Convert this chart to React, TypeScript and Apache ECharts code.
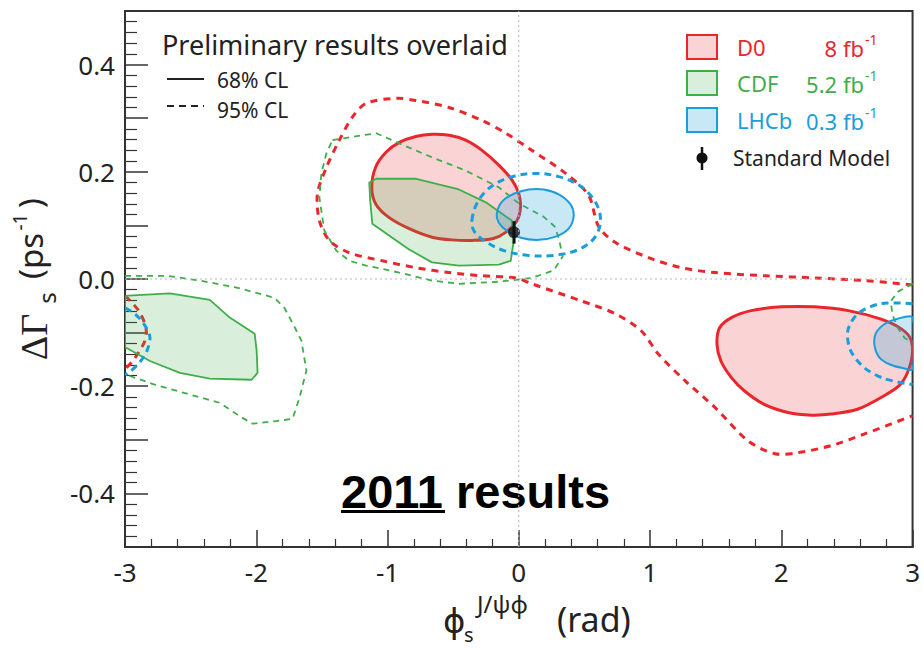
import React, { useEffect, useRef } from 'react';
import * as echarts from 'echarts';

type Pt = [number, number];

// Axis ticks
const X_TICKS = [-3, -2, -1, 0, 1, 2, 3];
const Y_LABEL_VALUES = [-0.4, -0.2, 0, 0.2, 0.4];

// Experiments in the legend
const EXPERIMENTS = ['D0', 'CDF', 'LHCb'];
const LUMIS = ['8 fb', '5.2 fb', '0.3 fb'];

// D0, 8 fb^-1 : 68% CL (central and phi ~ +2 solutions)
const d0Inner: Pt[] = [
  [-1.09, 0.209], [-1.01, 0.237], [-0.91, 0.255], [-0.785, 0.266], [-0.66, 0.27],
  [-0.53, 0.268], [-0.405, 0.259], [-0.28, 0.24], [-0.15, 0.212], [-0.05, 0.184],
  [0.0, 0.159], [0.013, 0.134], [-0.013, 0.109], [-0.1, 0.087], [-0.2, 0.075],
  [-0.355, 0.072], [-0.51, 0.073], [-0.66, 0.078], [-0.835, 0.094], [-0.99, 0.115],
  [-1.09, 0.14], [-1.12, 0.171],
];
const d0InnerRight: Pt[] = [
  [1.51, -0.122], [1.53, -0.091], [1.62, -0.072], [1.77, -0.059], [2.0, -0.052],
  [2.25, -0.052], [2.51, -0.059], [2.76, -0.075], [2.92, -0.094], [2.99, -0.115],
  [2.99, -0.153], [2.91, -0.196], [2.76, -0.221], [2.58, -0.243], [2.38, -0.252],
  [2.23, -0.254], [2.05, -0.249], [1.87, -0.234], [1.72, -0.209], [1.62, -0.184],
  [1.54, -0.153],
];
// D0 95% CL: one contour leaving and re-entering through phi = 3
const d0Outer: Pt[] = [
  [3.0, -0.011], [2.635, -0.003], [2.256, 0.002], [1.876, 0.006], [1.496, 0.012],
  [1.238, 0.021], [0.987, 0.04], [0.737, 0.068], [0.608, 0.098], [0.532, 0.156],
  [0.357, 0.197], [0.099, 0.24], [-0.099, 0.272], [-0.281, 0.296], [-0.532, 0.32],
  [-0.782, 0.333], [-0.934, 0.337], [-1.162, 0.328], [-1.268, 0.302], [-1.367, 0.259],
  [-1.466, 0.208], [-1.534, 0.159], [-1.519, 0.109], [-1.443, 0.072], [-1.291, 0.049],
  [-1.04, 0.034], [-0.782, 0.021], [-0.532, 0.012], [-0.281, 0.006], [-0.023, 0.002],
  [0.099, -0.009], [0.478, -0.041], [0.737, -0.065], [0.934, -0.097], [1.063, -0.14],
  [1.268, -0.19], [1.496, -0.24], [1.747, -0.302], [1.952, -0.326], [2.127, -0.324],
  [2.377, -0.311], [2.635, -0.289], [3.0, -0.255],
];
const d0OuterLeft: Pt[] = [
  [-3.0, -0.031], [-2.94, -0.046], [-2.886, -0.063], [-2.84, -0.091],
  [-2.848, -0.115], [-2.894, -0.136], [-2.947, -0.155], [-3.0, -0.168],
];

// CDF, 5.2 fb^-1
const cdfInner: Pt[] = [
  [-1.139, 0.18], [-1.086, 0.187], [-0.782, 0.187], [-0.456, 0.167], [-0.251, 0.143],
  [-0.053, 0.109], [-0.038, 0.072], [-0.061, 0.034], [-0.152, 0.027], [-0.456, 0.025],
  [-0.661, 0.031], [-0.835, 0.055], [-0.934, 0.072], [-1.116, 0.103], [-1.132, 0.146],
];
const cdfInnerLeft: Pt[] = [
  [-3.0, -0.033], [-2.977, -0.031], [-2.658, -0.027], [-2.354, -0.039], [-2.202, -0.072],
  [-2.012, -0.102], [-1.997, -0.134], [-1.99, -0.175], [-2.035, -0.188], [-2.354, -0.186],
  [-2.582, -0.175], [-2.81, -0.153], [-2.977, -0.13], [-3.0, -0.128],
];
const cdfOuter: Pt[] = [
  [-1.42, 0.259], [-1.352, 0.262], [-1.086, 0.272], [-0.911, 0.253], [-0.661, 0.227],
  [-0.403, 0.202], [-0.152, 0.171], [0.0, 0.141], [0.19, 0.116], [0.273, 0.098],
  [0.304, 0.077], [0.334, 0.042], [0.266, 0.016], [0.099, 0.002], [-0.152, -0.005],
  [-0.456, -0.009], [-0.661, -0.003], [-0.911, 0.012], [-1.162, 0.025], [-1.291, 0.034],
  [-1.39, 0.053], [-1.481, 0.09], [-1.519, 0.152], [-1.504, 0.197], [-1.466, 0.234],
];
const cdfOuterLeft: Pt[] = [
  [-3.0, 0.006], [-2.939, 0.006], [-2.681, 0.006], [-2.43, -0.003], [-2.149, -0.016],
  [-1.861, -0.035], [-1.785, -0.054], [-1.724, -0.082], [-1.656, -0.115], [-1.618, -0.171],
  [-1.671, -0.222], [-1.724, -0.261], [-1.846, -0.265], [-2.028, -0.27], [-2.127, -0.256],
  [-2.278, -0.231], [-2.529, -0.214], [-2.787, -0.196], [-2.962, -0.181], [-3.0, -0.179],
];
const cdfOuterRight: Pt[] = [
  [3.0, -0.009], [2.886, -0.024], [2.833, -0.042], [2.848, -0.067], [2.886, -0.091],
  [2.939, -0.11], [3.0, -0.119],
];

// LHCb, 0.3 fb^-1
const lhcbInner: Pt[] = [
  [-0.167, 0.122], [-0.129, 0.144], [-0.038, 0.159], [0.076, 0.167], [0.19, 0.167],
  [0.304, 0.158], [0.395, 0.139], [0.418, 0.117], [0.38, 0.094], [0.281, 0.079],
  [0.152, 0.073], [0.015, 0.077], [-0.091, 0.09], [-0.152, 0.105],
];
const lhcbInnerRight: Pt[] = [
  [3.0, -0.072], [2.886, -0.074], [2.787, -0.084], [2.719, -0.102], [2.711, -0.125],
  [2.749, -0.147], [2.833, -0.16], [2.924, -0.166], [3.0, -0.168],
];
const lhcbOuter: Pt[] = [
  [-0.357, 0.109], [-0.319, 0.141], [-0.228, 0.169], [-0.076, 0.189], [0.114, 0.197],
  [0.304, 0.191], [0.471, 0.173], [0.585, 0.143], [0.623, 0.109], [0.577, 0.077],
  [0.456, 0.055], [0.266, 0.044], [0.076, 0.044], [-0.114, 0.053], [-0.266, 0.072],
  [-0.342, 0.09],
];
const lhcbOuterRight: Pt[] = [
  [3.0, -0.046], [2.757, -0.046], [2.582, -0.065], [2.506, -0.097], [2.529, -0.134],
  [2.635, -0.166], [2.787, -0.186], [3.0, -0.197],
];
const lhcbOuterLeft: Pt[] = [
  [-3.0, -0.054], [-2.924, -0.065], [-2.848, -0.087], [-2.81, -0.109], [-2.833, -0.134],
  [-2.886, -0.155], [-2.962, -0.173], [-3.0, -0.179],
];

// Standard Model prediction
const SM_POINT: Pt = [-0.036, 0.087];
const SM_ERROR = 0.021;

const RED = '#e8262b';
const RED_FILL = 'rgba(232,38,43,0.2)';
const GREEN = '#3fae49';
const GREEN_FILL = 'rgba(63,174,73,0.2)';
const BLUE = '#1b9ddb';
const BLUE_FILL = 'rgba(27,157,219,0.24)';
const COLORS = [RED, GREEN, BLUE];
const FILLS = [RED_FILL, GREEN_FILL, BLUE_FILL];

const SANS = "'Noto Sans', 'DejaVu Sans', sans-serif";
const SERIF = "'Liberation Serif', 'DejaVu Serif', serif";
const INK = '#222';

interface ContourStyle {
  stroke: string;
  fill?: string;
  width: number;
  dash?: number[];
  closed: boolean;
  smooth?: number;
}

function contour(pts: Pt[], s: ContourStyle) {
  return {
    type: 'custom',
    coordinateSystem: 'cartesian2d',
    clip: true,
    silent: true,
    data: [pts[0]],
    renderItem: (_params: any, api: any) => ({
      type: s.closed ? 'polygon' : 'polyline',
      shape: { points: pts.map((p) => api.coord(p)), smooth: s.smooth || 0 },
      style: {
        fill: s.fill || (s.closed ? 'none' : null),
        stroke: s.stroke,
        lineWidth: s.width,
        lineDash: s.dash || null,
        lineJoin: 'round',
      },
    }),
  };
}

function text(x: number, y: number, str: string, size: number, opts: any = {}) {
  return {
    type: 'text',
    x,
    y,
    rotation: opts.rotation || 0,
    silent: true,
    style: {
      text: str,
      fill: opts.color || INK,
      fontSize: size,
      fontFamily: opts.family || SANS,
      fontWeight: opts.weight || 'normal',
      align: opts.align || 'left',
      textAlign: opts.align || 'left',
      verticalAlign: 'middle',
      textVerticalAlign: 'middle',
    },
  };
}

function buildGraphic() {
  const g: any[] = [];
  // CL annotation
  g.push(text(162, 44, 'Preliminary results overlaid', 27));
  g.push({ type: 'line', shape: { x1: 167, y1: 79, x2: 204, y2: 79 }, style: { stroke: INK, lineWidth: 2 } });
  g.push({ type: 'line', shape: { x1: 167, y1: 106, x2: 204, y2: 106 }, style: { stroke: INK, lineWidth: 2, lineDash: [7, 5] } });
  g.push(text(217, 80, '68% CL', 21));
  g.push(text(217, 110, '95% CL', 21));

  // Experiment legend
  const rowY = [47, 83, 120];
  EXPERIMENTS.forEach((name, i) => {
    const y = rowY[i];
    g.push({
      type: 'rect',
      shape: { x: 687, y: y - 12, width: 30, height: 24 },
      style: { fill: FILLS[i], stroke: COLORS[i], lineWidth: 2 },
    });
    g.push(text(737, y, name, 22, { color: COLORS[i] }));
    g.push(text(864, y + 1, LUMIS[i], 22, { color: COLORS[i], align: 'right' }));
    g.push(text(865, y - 8, '-1', 14, { color: COLORS[i] }));
  });
  // Standard Model entry
  g.push({ type: 'line', shape: { x1: 702, y1: 147, x2: 702, y2: 170 }, style: { stroke: '#111', lineWidth: 2.5 } });
  g.push({ type: 'circle', shape: { cx: 702, cy: 158, r: 5.5 }, style: { fill: '#111' } });
  g.push(text(733, 158, 'Standard Model', 21));

  // "2011 results"
  g.push(text(341, 491, '2011 results', 47, { color: '#000', weight: 'bold', family: "'Liberation Sans', Arial, sans-serif" }));
  g.push({ type: 'rect', shape: { x: 341, y: 510, width: 104, height: 3 }, style: { fill: '#000' } });

  // x-axis title: phi_s^{J/psi phi} (rad)
  g.push(text(443, 621, 'ϕ', 34, { family: "'DejaVu Sans', sans-serif" }));
  g.push(text(464, 634, 's', 20));
  g.push(text(477, 603, 'J/ψϕ', 24));
  g.push(text(557, 619, '(rad)', 34));

  // y-axis title: Delta Gamma_s (ps^-1), reading upwards
  const up = Math.PI / 2;
  g.push(text(34, 337, 'ΔΓ', 38, { family: SERIF, rotation: up, align: 'center' }));
  g.push(text(46, 298, 's', 24, { rotation: up, align: 'center' }));
  g.push(text(30, 256, '(ps', 33, { rotation: up, align: 'center' }));
  g.push(text(20, 222, '-1', 19, { rotation: up, align: 'center' }));
  g.push(text(30, 203, ')', 33, { rotation: up, align: 'center' }));
  return g;
}

export default function App() {
  const ref = useRef<HTMLDivElement>(null);

  useEffect(() => {
    if (!ref.current) return;
    const chart = echarts.init(ref.current, null, { renderer: 'svg' });

    const zeroLine = (data: Pt[]) => ({
      type: 'line',
      data,
      symbol: 'none',
      silent: true,
      lineStyle: { color: '#b8b8b8', width: 1, type: [2, 3] },
    });

    const option: any = {
      animation: false,
      backgroundColor: '#fff',
      grid: {
        left: 125,
        right: 8,
        top: 11,
        bottom: 101,
        show: true,
        borderColor: '#333',
        borderWidth: 2,
        backgroundColor: 'transparent',
      },
      xAxis: {
        type: 'value',
        min: X_TICKS[0],
        max: X_TICKS[X_TICKS.length - 1],
        interval: 1,
        axisLine: { onZero: false, lineStyle: { color: '#333', width: 2 } },
        axisTick: { inside: true, length: 17, lineStyle: { color: '#333', width: 1.5 } },
        minorTick: { show: true, splitNumber: 5, length: 8, lineStyle: { color: '#333', width: 1.2 } },
        axisLabel: {
          margin: 12,
          fontSize: 26,
          fontFamily: SANS,
          color: INK,
          formatter: (v: number) => (X_TICKS.includes(Math.round(v)) ? String(Math.round(v)) : ''),
        },
        splitLine: { show: false },
      },
      yAxis: {
        type: 'value',
        min: -0.5,
        max: 0.5,
        interval: 0.1,
        axisLine: { onZero: false, lineStyle: { color: '#333', width: 2 } },
        axisTick: { inside: true, length: 23, lineStyle: { color: '#333', width: 1.5 } },
        minorTick: { show: true, splitNumber: 5, length: 12, lineStyle: { color: '#333', width: 1.2 } },
        axisLabel: {
          margin: 10,
          fontSize: 26,
          fontFamily: SANS,
          color: INK,
          formatter: (v: number) => {
            const hit = Y_LABEL_VALUES.find((t) => Math.abs(t - v) < 1e-6);
            return hit === undefined ? '' : hit.toFixed(1);
          },
        },
        splitLine: { show: false },
      },
      series: [
        zeroLine([[0, -0.5], [0, 0.5]]),
        zeroLine([[-3, 0], [3, 0]]),
        // D0
        contour(d0Inner, { stroke: RED, fill: RED_FILL, width: 3, closed: true, smooth: 0.3 }),
        contour(d0InnerRight, { stroke: RED, fill: RED_FILL, width: 3, closed: true, smooth: 0.3 }),
        contour(d0Outer, { stroke: RED, width: 3, dash: [7, 6], closed: false, smooth: 0.3 }),
        contour(d0OuterLeft, { stroke: RED, width: 3, dash: [7, 6], closed: false, smooth: 0.3 }),
        // CDF
        contour(cdfInner, { stroke: GREEN, fill: GREEN_FILL, width: 1.8, closed: true }),
        contour(cdfInnerLeft, { stroke: GREEN, fill: GREEN_FILL, width: 1.8, closed: true }),
        contour(cdfOuter, { stroke: GREEN, width: 1.8, dash: [6, 5], closed: true }),
        contour(cdfOuterLeft, { stroke: GREEN, width: 1.8, dash: [6, 5], closed: false }),
        contour(cdfOuterRight, { stroke: GREEN, width: 1.8, dash: [6, 5], closed: false }),
        // LHCb
        contour(lhcbInner, { stroke: BLUE, fill: BLUE_FILL, width: 2, closed: true, smooth: 0.35 }),
        contour(lhcbInnerRight, { stroke: BLUE, fill: BLUE_FILL, width: 2, closed: true, smooth: 0.3 }),
        contour(lhcbOuter, { stroke: BLUE, width: 3, dash: [7, 5], closed: true, smooth: 0.35 }),
        contour(lhcbOuterRight, { stroke: BLUE, width: 3, dash: [7, 5], closed: false, smooth: 0.3 }),
        contour(lhcbOuterLeft, { stroke: BLUE, width: 3, dash: [7, 5], closed: false, smooth: 0.3 }),
        // Standard Model
        {
          type: 'custom',
          silent: true,
          data: [SM_POINT],
          renderItem: (_p: any, api: any) => {
            const a = api.coord([SM_POINT[0], SM_POINT[1] - SM_ERROR]);
            const b = api.coord([SM_POINT[0], SM_POINT[1] + SM_ERROR]);
            return {
              type: 'line',
              shape: { x1: a[0], y1: a[1], x2: b[0], y2: b[1] },
              style: { stroke: '#111', lineWidth: 3 },
            };
          },
        },
        {
          type: 'scatter',
          silent: true,
          data: [SM_POINT],
          symbolSize: 12,
          itemStyle: { color: '#111' },
        },
      ],
      graphic: buildGraphic(),
    };

    chart.setOption(option);
    return () => chart.dispose();
  }, []);

  return (
    <div
      ref={ref}
      style={{ position: 'fixed', left: 0, top: 0, width: 923, height: 648, background: '#fff' }}
    />
  );
}
